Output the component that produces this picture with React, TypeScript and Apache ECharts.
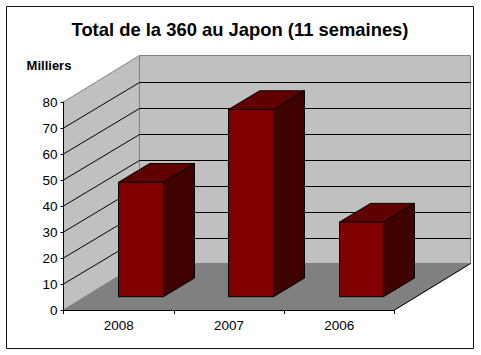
import React, { useEffect, useRef } from "react";
import * as echarts from "echarts";

const titleText = "Total de la 360 au Japon (11 semaines)";
const unitText = "Milliers";
const categories = ["2008", "2007", "2006"];
const values = [44, 72, 28.7];
const wallTicks = [10, 20, 30, 40, 50, 60, 70];
const yMin = 0;
const yMax = 80;
const yInterval = 10;

// chart-box depth of the 3D projection, in pixels
const DEPTH_X = 76;
const DEPTH_Y = -46.5;
const BAR_W = 44.6;
const BAR_DX = 31;
const BAR_DY = -18.7;
const BAR_SHIFT_X = 22.4;
const BAR_SHIFT_Y = -13.3;

const wallFill = "#C0C0C0";
const floorFill = "#808080";
const edge = "#808080";

export default function App() {
  const ref = useRef<HTMLDivElement>(null);
  useEffect(() => {
    document.body.style.margin = "0";
    document.body.style.background = "#fff";
    const chart = echarts.init(ref.current!, undefined, { renderer: "svg" });
    const poly = (points: number[][], fill: string, stroke: string, lineWidth = 1) => ({
      type: "polygon",
      shape: { points },
      style: { fill, stroke, lineWidth },
    });
    chart.setOption({
      animation: false,
      backgroundColor: "#fff",
      textStyle: { fontFamily: "Liberation Sans" },
      title: {
        text: titleText,
        left: 235,
        top: 15,
        textAlign: "center",
        textStyle: { fontFamily: "Liberation Sans", fontSize: 18.4, fontWeight: "bold", color: "#000" },
      },
      graphic: [
        {
          type: "rect",
          z: -1,
          shape: { x: 6.5, y: 6.5, width: 467, height: 342 },
          style: { fill: "none", stroke: "#111", lineWidth: 1 },
        },
      ],
      grid: { left: 63.5, top: 102, width: 331, height: 208, containLabel: false },
      xAxis: {
        type: "category",
        data: categories,
        z: 6,
        axisLine: { lineStyle: { color: "#000", width: 1 } },
        axisTick: { show: true, alignWithLabel: false, length: 4, lineStyle: { color: "#000" } },
        axisLabel: { color: "#000", fontSize: 13.5, margin: 8, fontFamily: "Liberation Sans" },
        splitLine: { show: false },
      },
      yAxis: {
        type: "value",
        min: yMin,
        max: yMax,
        interval: yInterval,
        z: 6,
        name: unitText,
        nameLocation: "end",
        nameGap: 30,
        nameTextStyle: {
          color: "#000",
          fontSize: 13,
          fontWeight: "bold",
          fontFamily: "Liberation Sans",
          padding: [0, 29, 0, 0],
        },
        axisLine: { show: true, lineStyle: { color: "#000", width: 1 } },
        axisTick: { show: true, length: 3, lineStyle: { color: "#000" } },
        axisLabel: { color: "#000", fontSize: 13.5, margin: 6, fontFamily: "Liberation Sans" },
        splitLine: { show: false },
      },
      series: [
        {
          // floor and walls
          type: "custom",
          coordinateSystem: "cartesian2d",
          silent: true,
          z: 1,
          data: [[0, yMax]],
          renderItem: (params: any, api: any) => {
            const cs = params.coordSys;
            const l = cs.x;
            const r = cs.x + cs.width;
            const t = api.coord([0, yMax])[1];
            const b = api.coord([0, yMin])[1];
            return {
              type: "group",
              children: [
                poly([[l, t], [l + DEPTH_X, t + DEPTH_Y], [l + DEPTH_X, b + DEPTH_Y], [l, b]], wallFill, edge),
                poly(
                  [[l + DEPTH_X, t + DEPTH_Y], [r + DEPTH_X, t + DEPTH_Y], [r + DEPTH_X, b + DEPTH_Y], [l + DEPTH_X, b + DEPTH_Y]],
                  wallFill,
                  edge,
                ),
                poly([[l, b], [l + DEPTH_X, b + DEPTH_Y], [r + DEPTH_X, b + DEPTH_Y], [r, b]], floorFill, floorFill),
                {
                  type: "line",
                  shape: { x1: r, y1: b, x2: r + DEPTH_X, y2: b + DEPTH_Y },
                  style: { stroke: "#000", lineWidth: 1 },
                },
              ],
            };
          },
        },
        {
          // wall gridlines
          type: "custom",
          coordinateSystem: "cartesian2d",
          silent: true,
          z: 2,
          data: wallTicks.map((v) => [0, v]),
          renderItem: (params: any, api: any) => {
            const cs = params.coordSys;
            const l = cs.x;
            const r = cs.x + cs.width;
            const y = Math.round(api.coord([0, api.value(1)])[1]);
            const yb = Math.round(y + DEPTH_Y) + 0.5;
            return {
              type: "polyline",
              shape: { points: [[l, y], [l + DEPTH_X, yb], [r + DEPTH_X, yb]] },
              style: { fill: "none", stroke: "#000", lineWidth: 1 },
            };
          },
        },
        {
          // 3D bars
          type: "custom",
          coordinateSystem: "cartesian2d",
          silent: true,
          z: 3,
          data: values.map((v, i) => [i, v]),
          renderItem: (_params: any, api: any) => {
            const c = api.coord([api.value(0), 0]);
            const top = api.coord([api.value(0), api.value(1)])[1] + BAR_SHIFT_Y;
            const left = c[0] + BAR_SHIFT_X - 22.5;
            const x0 = Math.floor(left) + 0.5;
            const x1 = Math.floor(left + BAR_W) + 0.5;
            const y1 = c[1] + BAR_SHIFT_Y;
            return {
              type: "group",
              children: [
                poly([[x0, top], [x0 + BAR_DX, top + BAR_DY], [x1 + BAR_DX, top + BAR_DY], [x1, top]], "#600000", "#000"),
                poly([[x1, top], [x1 + BAR_DX, top + BAR_DY], [x1 + BAR_DX, y1 + BAR_DY], [x1, y1]], "#400000", "#000"),
                poly([[x0, top], [x1, top], [x1, y1], [x0, y1]], "#800000", "#000"),
              ],
            };
          },
        },
      ],
    });
    return () => chart.dispose();
  }, []);
  return <div ref={ref} style={{ width: 481, height: 355 }} />;
}
